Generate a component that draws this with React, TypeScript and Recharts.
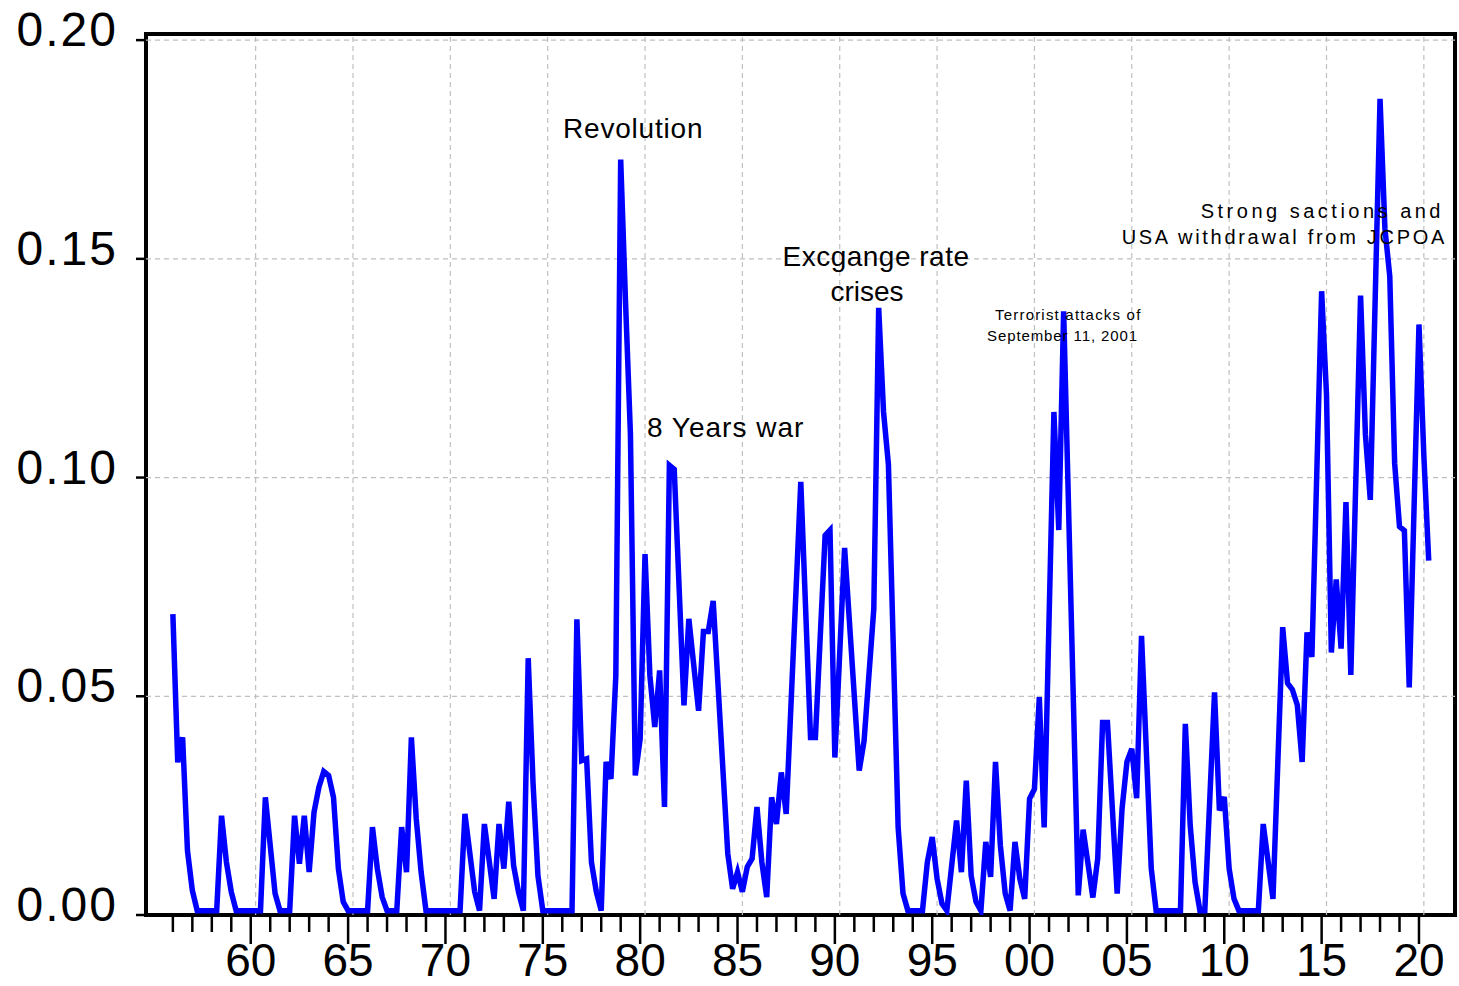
import { LineChart, Line, XAxis, YAxis, ReferenceLine, ReferenceArea } from 'recharts'

// quarterly series, only the turning points of the plotted line
const obs1956to1969: [string, number][] = [
  ['1956Q1', 0.0688], ['1956Q2', 0.0349], ['1956Q3', 0.0406], ['1956Q4', 0.0147],
  ['1957Q1', 0.0056], ['1957Q2', 0.001], ['1958Q2', 0.001], ['1958Q3', 0.0227],
  ['1958Q4', 0.0121], ['1959Q1', 0.0053], ['1959Q2', 0.001], ['1960Q3', 0.001],
  ['1960Q4', 0.0269], ['1961Q1', 0.0159], ['1961Q2', 0.0049], ['1961Q3', 0.001],
  ['1962Q1', 0.001], ['1962Q2', 0.0227], ['1962Q3', 0.0117], ['1962Q4', 0.0227],
  ['1963Q1', 0.0098], ['1963Q2', 0.0235], ['1963Q3', 0.0292], ['1963Q4', 0.0328],
  ['1964Q1', 0.0319], ['1964Q2', 0.0269], ['1964Q3', 0.0106], ['1964Q4', 0.003],
  ['1965Q1', 0.001], ['1966Q1', 0.001], ['1966Q2', 0.0201], ['1966Q3', 0.0106],
  ['1966Q4', 0.0041], ['1967Q1', 0.001], ['1967Q3', 0.001], ['1967Q4', 0.0201],
  ['1968Q1', 0.0098], ['1968Q2', 0.0406], ['1968Q3', 0.022], ['1968Q4', 0.0098],
  ['1969Q1', 0.001],
]

const obs1970to1987: [string, number][] = [
  ['1970Q4', 0.001], ['1971Q1', 0.0231], ['1971Q3', 0.0053], ['1971Q4', 0.001],
  ['1972Q1', 0.0208], ['1972Q3', 0.0037], ['1972Q4', 0.0208], ['1973Q1', 0.0106],
  ['1973Q2', 0.0259], ['1973Q3', 0.0113], ['1973Q4', 0.0053], ['1974Q1', 0.001],
  ['1974Q2', 0.0587], ['1974Q3', 0.03], ['1974Q4', 0.009], ['1975Q1', 0.001],
  ['1976Q3', 0.001], ['1976Q4', 0.0676], ['1977Q1', 0.0353], ['1977Q2', 0.0357],
  ['1977Q3', 0.012], ['1977Q4', 0.0053], ['1978Q1', 0.001], ['1978Q2', 0.035],
  ['1978Q3', 0.0311], ['1978Q4', 0.0547], ['1979Q1', 0.1727], ['1979Q2', 0.14],
  ['1979Q3', 0.11], ['1979Q4', 0.0319], ['1980Q1', 0.0403], ['1980Q2', 0.0825],
  ['1980Q3', 0.0547], ['1980Q4', 0.043], ['1981Q1', 0.0559], ['1981Q2', 0.0247],
  ['1981Q3', 0.1028], ['1981Q4', 0.1019], ['1982Q2', 0.0479], ['1982Q3', 0.0677],
  ['1983Q1', 0.0467], ['1983Q2', 0.0648], ['1983Q3', 0.0648], ['1983Q4', 0.0718],
  ['1984Q3', 0.014], ['1984Q4', 0.006], ['1985Q1', 0.0098], ['1985Q2', 0.0053],
  ['1985Q3', 0.011], ['1985Q4', 0.0129], ['1986Q1', 0.0247], ['1986Q2', 0.0121],
  ['1986Q3', 0.0041], ['1986Q4', 0.0269], ['1987Q1', 0.0208], ['1987Q2', 0.0326],
  ['1987Q3', 0.0231],
]

const obs1988to2005: [string, number][] = [
  ['1988Q2', 0.099], ['1988Q4', 0.0406], ['1989Q1', 0.0406], ['1989Q3', 0.0868],
  ['1989Q4', 0.088], ['1990Q1', 0.036], ['1990Q3', 0.0839], ['1991Q2', 0.033],
  ['1991Q3', 0.0398], ['1992Q1', 0.07], ['1992Q2', 0.1388], ['1992Q3', 0.115],
  ['1992Q4', 0.103], ['1993Q2', 0.02], ['1993Q3', 0.0049], ['1993Q4', 0.001],
  ['1994Q3', 0.001], ['1994Q4', 0.0121], ['1995Q1', 0.0178], ['1995Q2', 0.0083],
  ['1995Q3', 0.0026], ['1995Q4', 0.001], ['1996Q2', 0.0216], ['1996Q3', 0.0098],
  ['1996Q4', 0.0307], ['1997Q1', 0.009], ['1997Q2', 0.003], ['1997Q3', 0.001],
  ['1997Q4', 0.0167], ['1998Q1', 0.0087], ['1998Q2', 0.035], ['1998Q3', 0.0159],
  ['1998Q4', 0.0049], ['1999Q1', 0.001], ['1999Q2', 0.0167], ['1999Q3', 0.0083],
  ['1999Q4', 0.0037], ['2000Q1', 0.0266], ['2000Q2', 0.0288], ['2000Q3', 0.0498],
  ['2000Q4', 0.02], ['2001Q2', 0.115], ['2001Q3', 0.088], ['2001Q4', 0.138],
  ['2002Q3', 0.0045], ['2002Q4', 0.0195], ['2003Q2', 0.004], ['2003Q3', 0.0129],
  ['2003Q4', 0.044], ['2004Q1', 0.044], ['2004Q3', 0.0049], ['2004Q4', 0.0243],
  ['2005Q1', 0.035], ['2005Q2', 0.038], ['2005Q3', 0.0267], ['2005Q4', 0.0638],
]

const obs2006to2020: [string, number][] = [
  ['2006Q2', 0.0106], ['2006Q3', 0.001], ['2007Q4', 0.001], ['2008Q1', 0.0437],
  ['2008Q2', 0.0205], ['2008Q3', 0.0075], ['2008Q4', 0.001], ['2009Q1', 0.001],
  ['2009Q3', 0.0509], ['2009Q4', 0.0239], ['2010Q1', 0.027], ['2010Q2', 0.0106],
  ['2010Q3', 0.0037], ['2010Q4', 0.001], ['2011Q4', 0.001], ['2012Q1', 0.0208],
  ['2012Q3', 0.0037], ['2013Q1', 0.0658], ['2013Q2', 0.053], ['2013Q3', 0.0515],
  ['2013Q4', 0.048], ['2014Q1', 0.035], ['2014Q2', 0.0646], ['2014Q3', 0.059],
  ['2015Q1', 0.1426], ['2015Q2', 0.119], ['2015Q3', 0.06], ['2015Q4', 0.0767],
  ['2016Q1', 0.0609], ['2016Q2', 0.0944], ['2016Q3', 0.0549], ['2017Q1', 0.1416],
  ['2017Q2', 0.1098], ['2017Q3', 0.0949], ['2018Q1', 0.1866], ['2018Q2', 0.157],
  ['2018Q3', 0.146], ['2018Q4', 0.1033], ['2019Q1', 0.0888], ['2019Q2', 0.0879],
  ['2019Q3', 0.052], ['2020Q1', 0.135], ['2020Q2', 0.105], ['2020Q3', 0.081],
]

const labelYears = [1960, 1965, 1970, 1975, 1980, 1985, 1990, 1995, 2000, 2005, 2010, 2015, 2020]
const valueTicks = [0, 0.05, 0.1, 0.15, 0.2]

const FONT = '"Liberation Sans", Arial, Helvetica, sans-serif'
const X_DOMAIN: [number, number] = [1954.62, 2021.85]
const Y_DOMAIN: [number, number] = [0, 0.2014]

function quarterToYear(q: string): number {
  const [year, quarter] = q.split('Q')
  return Number(year) + (Number(quarter) - 1) / 4
}

const rows = [...obs1956to1969, ...obs1970to1987, ...obs1988to2005, ...obs2006to2020]
  .map(([q, v]) => ({ t: quarterToYear(q), v }))

// one tick per year, from the first observation year to the last label year
const yearTicks = Array.from({ length: 2020 - 1956 + 1 }, (_, i) => 1956 + i)

function YearTick({ x, y, payload }: { x?: number; y?: number; payload?: { value: number } }) {
  if (x == null || y == null || !payload) return null
  const major = payload.value % 5 === 0
  return (
    <g>
      <line x1={x} x2={x} y1={y} y2={y + (major ? 29 : 17)} stroke="#000" strokeWidth={2.5} />
      {major && (
        <text x={x} y={y + 61} textAnchor="middle" fontSize={46} fontFamily={FONT} fill="#000">
          {String(payload.value).slice(2)}
        </text>
      )}
    </g>
  )
}

function ValueTick({ x, y, payload }: { x?: number; y?: number; payload?: { value: number } }) {
  if (x == null || y == null || !payload) return null
  return (
    <g>
      <line x1={x - 10} x2={x} y1={y} y2={y} stroke="#000" strokeWidth={2.5} />
      <text x={x - 28} y={y - 10.5} textAnchor="end" dominantBaseline="central"
        fontSize={48} fontFamily={FONT} letterSpacing={2} fill="#000">
        {payload.value.toFixed(2)}
      </text>
    </g>
  )
}

export default function App() {
  return (
    <div style={{ position: 'relative', width: 1459, height: 986, fontFamily: FONT }}>
      <style>{'body{margin:0;background:#fff}'}</style>
      <LineChart width={1459} height={986} data={rows} margin={{ top: 34, right: 4, bottom: 0, left: 0 }}>
        <XAxis type="number" dataKey="t" domain={X_DOMAIN} ticks={yearTicks} interval={0}
          tick={<YearTick />} tickLine={false} axisLine={false} tickSize={0} tickMargin={0}
          height={71} allowDataOverflow />
        <YAxis type="number" domain={Y_DOMAIN} ticks={valueTicks} interval={0}
          tick={<ValueTick />} tickLine={false} axisLine={false} tickSize={0} tickMargin={0}
          width={146} allowDataOverflow />
        {labelYears.map((yr) => (
          <ReferenceLine key={yr} x={yr + 0.25} stroke="#c0c0c0" strokeWidth={1.2} strokeDasharray="5 4" />
        ))}
        {valueTicks.slice(1).map((v) => (
          <ReferenceLine key={v} y={v} stroke="#c0c0c0" strokeWidth={1.2} strokeDasharray="5 4" />
        ))}
        <Line type="linear" dataKey="v" stroke="#0000ff" strokeWidth={5.5} dot={false}
          activeDot={false} isAnimationActive={false} />
        <ReferenceArea x1={X_DOMAIN[0]} x2={X_DOMAIN[1]} y1={Y_DOMAIN[0]} y2={Y_DOMAIN[1]}
          fill="none" fillOpacity={0} stroke="#000" strokeWidth={4} />
      </LineChart>
      <svg width={1459} height={986} style={{ position: 'absolute', left: 0, top: 0, pointerEvents: 'none' }}
        fontFamily={FONT} fill="#000">
        <text x={563} y={138} fontSize={28} letterSpacing={0.8}>Revolution</text>
        <text x={647} y={437} fontSize={28} letterSpacing={1}>8 Years war</text>
        <text x={876} y={266} fontSize={28} textAnchor="middle" letterSpacing={0.5}>Excgange rate</text>
        <text x={867} y={301} fontSize={28} textAnchor="middle">crises</text>
        <text x={995} y={320} fontSize={15} letterSpacing={1.2}>Terrorist attacks of</text>
        <text x={987} y={341} fontSize={15} letterSpacing={0.9}>September 11, 2001</text>
        <text x={1444} y={218} fontSize={20} textAnchor="end" letterSpacing={3.5}>Strong sactions and</text>
        <text x={1447} y={244} fontSize={20} textAnchor="end" letterSpacing={2.7}>USA withdrawal from JCPOA</text>
      </svg>
    </div>
  )
}
